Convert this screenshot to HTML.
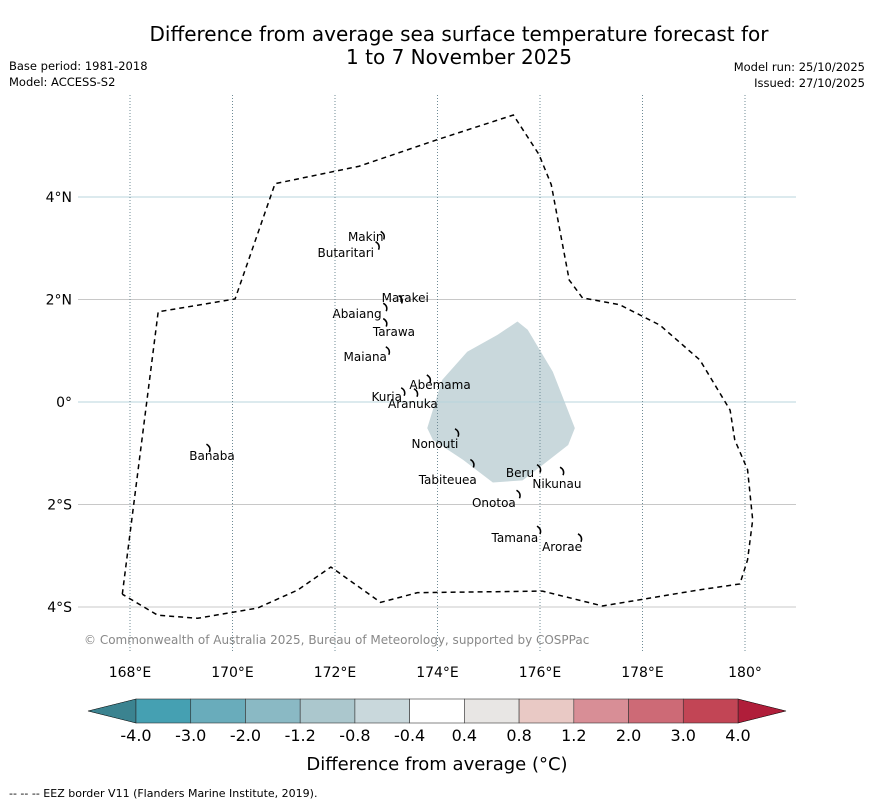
<!DOCTYPE html>
<html><head><meta charset="utf-8"><style>
body{margin:0;background:#fff;font-family:"Liberation Sans","DejaVu Sans",sans-serif}
svg text{font-family:"DejaVu Sans","Liberation Sans",sans-serif}
</style></head><body>
<svg id="s" width="873" height="804" viewBox="0 0 873 804">
<text x="459" y="41" font-size="20" text-anchor="middle">Difference from average sea surface temperature forecast for</text>
<text x="459" y="64" font-size="20" text-anchor="middle">1 to 7 November 2025</text>
<text x="9" y="70" font-size="11.5">Base period: 1981-2018</text>
<text x="9" y="86" font-size="11.5">Model: ACCESS-S2</text>
<text x="865" y="71" font-size="11.5" text-anchor="end">Model run: 25/10/2025</text>
<text x="865" y="87" font-size="11.5" text-anchor="end">Issued: 27/10/2025</text>
<g id="map"></g>
<g id="cb"></g>
<text x="437" y="770" font-size="18" text-anchor="middle">Difference from average (°C)</text>
<text x="9" y="797" font-size="11">--  --  -- EEZ border V11 (Flanders Marine Institute, 2019).</text>
<text x="84" y="644" font-size="12" fill="#888">© Commonwealth of Australia 2025, Bureau of Meteorology, supported by COSPPac</text>
</svg>
<script>
const lonTicks=[168,170,172,174,176,178,180];
const latTicks=[4,2,0,-2,-4];
const cbTicks=["-4.0","-3.0","-2.0","-1.2","-0.8","-0.4","0.4","0.8","1.2","2.0","3.0","4.0"];
const cbColors=["#45a0b2","#69acbb","#8ab9c4","#abc7cd","#c9d8dc","#ffffff","#e8e6e4","#e9c9c5","#d88e96","#cd6a76","#c24555"];
const islandNames=["Makin","Butaritari","Marakei","Abaiang","Tarawa","Maiana","Abemama","Kuria","Aranuka","Nonouti","Tabiteuea","Beru","Nikunau","Onotoa","Tamana","Arorae","Banaba"];
const islandLon=[172.60,172.21,173.37,172.43,173.15,172.59,174.05,173.01,173.52,173.95,174.20,175.61,176.33,175.10,175.51,176.43,169.60];
const islandLat=[3.14,2.83,1.95,1.64,1.29,0.80,0.25,0.02,-0.12,-0.90,-1.60,-1.46,-1.68,-2.05,-2.73,-2.91,-1.13];
const atollLon=[172.95,172.85,173.3,173.0,173.0,173.05,173.85,173.35,173.6,174.4,174.7,176.0,176.45,175.6,176.0,176.8,169.55];
const atollLat=[3.25,3.05,2.0,1.85,1.55,1.0,0.45,0.2,0.18,-0.6,-1.2,-1.3,-1.35,-1.8,-2.5,-2.65,-0.9];
const eezLon=[167.85,168.55,170.05,170.83,172.47,174.03,175.48,175.98,176.22,176.57,176.83,177.55,178.34,179.12,179.71,179.8,180.05,180.15,180.05,179.9,179.08,177.22,176.05,173.61,172.89,171.92,171.27,170.49,169.32,168.54,167.85];
const eezLat=[-3.75,1.76,2.01,4.26,4.6,5.13,5.6,4.83,4.24,2.38,2.03,1.9,1.5,0.82,-0.16,-0.74,-1.32,-2.3,-3.08,-3.55,-3.67,-3.98,-3.69,-3.72,-3.91,-3.22,-3.67,-4.02,-4.22,-4.16,-3.75];
const anomLon=[173.8,174.09,174.58,175.17,175.56,175.76,176.25,176.68,176.55,176.05,175.66,175.08,174.5,173.91];
const anomLat=[-0.51,0.43,0.98,1.31,1.57,1.41,0.59,-0.51,-0.84,-1.23,-1.53,-1.57,-1.13,-0.74];
const NS="http://www.w3.org/2000/svg";
const X=lon=>130+(lon-168)*51.25, Y=lat=>402-lat*51.25;
function mk(p,t,a){const e=document.createElementNS(NS,t);for(const k in a)e.setAttribute(k,a[k]);p.appendChild(e);return e;}
const map=document.getElementById('map');
let pts=anomLon.map((l,i)=>X(l)+','+Y(anomLat[i])).join(' ');
let an=mk(map,'polygon',{points:pts,fill:'#c9d8dc'});


latTicks.forEach(la=>{
 let g=mk(map,'line',{x1:78,x2:796,y1:Y(la),y2:Y(la),stroke:(la===4||la===0)?'#b8d4dc':'#c8c8c8','stroke-width':1});
 
 
 let t=mk(map,'text',{x:72,y:Y(la)+5,'font-size':14,'text-anchor':'end'});
 t.textContent=la===0?'0°':Math.abs(la)+'°'+(la>0?'N':'S');
 
 
});
lonTicks.forEach(lo=>{
 let g=mk(map,'line',{x1:X(lo),x2:X(lo),y1:95,y2:652,stroke:'#6f8b96','stroke-width':1,'stroke-dasharray':'1,2'});
 
 
 let t=mk(map,'text',{x:X(lo),y:677,'font-size':14,'text-anchor':'middle'});
 t.textContent=lo===180?'180°':lo+'°E';
 
 
});
let ez=mk(map,'polyline',{points:eezLon.map((l,i)=>X(l)+','+Y(eezLat[i])).join(' '),fill:'none',stroke:'#000','stroke-width':1.5,'stroke-dasharray':'5,4'});


atollLon.forEach((l,i)=>{
 let a=mk(map,'path',{d:`M${X(l)-3},${Y(atollLat[i])-4} q5,3 3,8`,fill:'none',stroke:'#000','stroke-width':1.5});
 
 
});
islandNames.forEach((n,i)=>{
 let t=mk(map,'text',{x:X(islandLon[i]),y:Y(islandLat[i]),'font-size':12,'text-anchor':'middle'});
 t.textContent=n;
 
 
});
const cb=document.getElementById('cb');
const cx0=136,cx1=738,cy=699,ch=24,w=(cx1-cx0)/cbColors.length;
let la=mk(cb,'polygon',{points:`${cx0},${cy} 88,${cy+ch/2} ${cx0},${cy+ch}`,fill:'#3b8390',stroke:'#000','stroke-width':0.6});


let ra=mk(cb,'polygon',{points:`${cx1},${cy} 786,${cy+ch/2} ${cx1},${cy+ch}`,fill:'#b01e3a',stroke:'#000','stroke-width':0.6});


cbColors.forEach((c,i)=>{
 let r=mk(cb,'rect',{x:cx0+i*w,y:cy,width:w,height:ch,fill:c,stroke:'#333','stroke-width':0.6});
 
 
});
cbTicks.forEach((t,i)=>{
 let e=mk(cb,'text',{x:cx0+i*w,y:741,'font-size':16,'text-anchor':'middle'});
 e.textContent=t;
 
 
});
</script>
</body></html>
